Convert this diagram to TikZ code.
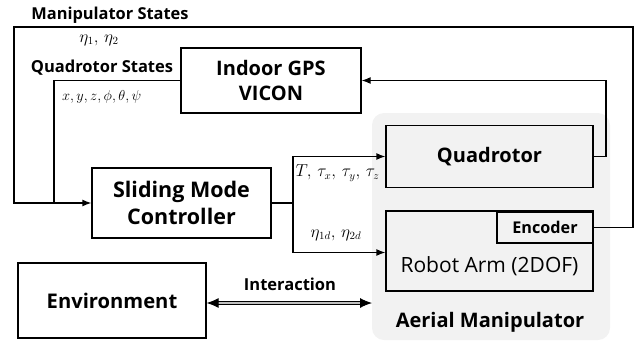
\documentclass[tikz,border=0pt]{standalone}
\usepackage{amsmath}
\usepackage{fontspec}
\setmainfont{Open Sans}
\usetikzlibrary{arrows.meta,positioning}

\begin{document}
\begin{tikzpicture}[x=1pt,y=-1pt,
    box/.style={draw, line width=1.3pt, fill=white, inner sep=0pt, align=center},
    conn/.style={line width=1.3pt},
    arr/.style={conn, -{Latex[length=9pt,width=7pt]}},
    ttl/.style={font=\fontsize{#1}{#1}\selectfont\bfseries, inner sep=0pt},
    mth/.style={font=\fontsize{#1}{#1}\selectfont, inner sep=0pt}]
    \useasboundingbox (0,0) rectangle (641,341);

    % Aerial manipulator background
    \fill[black!5, rounded corners=12pt] (372,113) rectangle (610,340);

    % Blocks
    \node[box, minimum width=180pt, minimum height=65pt, ttl=20] (gps) at (271,80.5) {Indoor GPS\\[5pt]VICON};
    \node[box, minimum width=207pt, minimum height=62pt, ttl=20, fill=black!5] (quad) at (489.5,156.5) {Quadrotor};
    \node[box, minimum width=207pt, minimum height=80pt, fill=black!5] (arm) at (489.5,251) {};
    \node[box, minimum width=96pt, minimum height=31pt, ttl=16.2, fill=black!5] (enc) at (545,227.5) {Encoder};
    \node[inner sep=0pt, font=\fontsize{21}{21}\selectfont] (armtxt) at (489.5,266) {Robot Arm (2DOF)};
    \node[box, minimum width=179pt, minimum height=70pt, ttl=21.5] (smc) at (181.5,203) {Sliding Mode\\[5pt]Controller};
    \node[box, minimum width=188pt, minimum height=75pt, ttl=20.2] (env) at (112,300.5) {Environment};
    \node[ttl=20] (aml) at (490,322) {Aerial Manipulator};

    % Labels
    \node[ttl=16.4] (mslbl) at (110,15) {Manipulator States};
    \node[mth=16] (etalbl) at (99,40) {$\eta_1,\,\eta_2$};
    \node[ttl=16.5] (qslbl) at (102,68) {Quadrotor States};
    \node[mth=14.5, anchor=west] (xlbl) at (62,97) {$x,y,z,\phi,\theta,\psi$};
    \node[mth=16] (tlbl) at (337.5,173) {$T,\,\tau_x,\,\tau_y,\,\tau_z$};
    \node[mth=16] (etadlbl) at (336,235) {$\eta_{1d},\,\eta_{2d}$};
    \node[ttl=16.5] (intlbl) at (290,284) {Interaction};

    % Feedback loops
    \coordinate (mtop) at (633,27);
    \coordinate (mleft) at (14,27);
    \coordinate (qjoin) at (54,203);
    \coordinate (qturn) at (606,80.5);
    \draw[arr] (enc.east) -| (mtop) -- (mleft) |- (smc.west);
    \draw[conn] (gps.west) -| (qjoin);
    \draw[arr] (quad.east) -| (qturn) -- (gps.east);

    % Control outputs
    \coordinate (split) at (293,203);
    \draw[conn] (smc.east) -- (split);
    \draw[arr] (split) |- (quad.west);
    \draw[arr] (split) |- ([yshift=-1.5pt]arm.west);

    % Interaction
    \coordinate (intend) at (372,303);
    \draw[line width=0.9pt, double=black!25, double distance=1.6pt,
          {Latex[length=12pt,width=10pt]}-{Latex[length=12pt,width=10pt]}]
          (env.east |- intend) -- (intend);
\end{tikzpicture}
\end{document}
